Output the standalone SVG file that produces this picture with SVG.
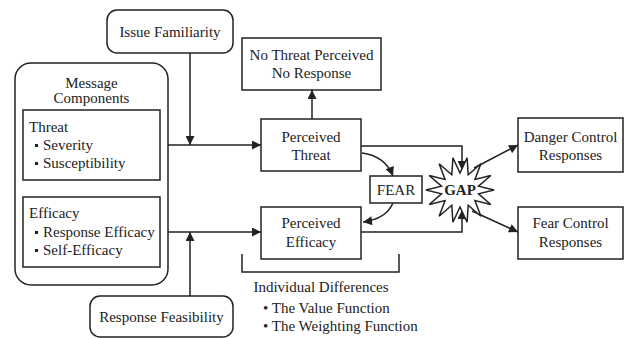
<svg xmlns="http://www.w3.org/2000/svg" width="628" height="338" viewBox="0 0 628 338">
<defs>
<style>
.b{fill:#fff;stroke:#222;stroke-width:1.5}
.t{font-family:'Liberation Serif','Tinos','Times New Roman','DejaVu Serif',serif;font-size:15px;fill:#222}
.c{text-anchor:middle}
.ln{fill:none;stroke:#222;stroke-width:1.5}
</style>
<marker id="ah" viewBox="0 0 10 10" refX="10" refY="5" markerWidth="11" markerHeight="9" markerUnits="userSpaceOnUse" orient="auto">
<path d="M0,0 L10,5 L0,10 z" fill="#222"/>
</marker>
</defs>
<rect width="628" height="338" fill="#fff"/>
<g id="connectors">
<path class="ln" d="M160,145 H261" marker-end="url(#ah)"/>
<path class="ln" d="M190,53 V145" marker-end="url(#ah)"/>
<path class="ln" d="M160,232 H261" marker-end="url(#ah)"/>
<path class="ln" d="M190,296 V232" marker-end="url(#ah)"/>
<path class="ln" d="M312,119 V90" marker-end="url(#ah)"/>
<path class="ln" d="M361,146 H462 V170" marker-end="url(#ah)"/>
<path class="ln" d="M361,232 H462 V210" marker-end="url(#ah)"/>
<path class="ln" d="M474,168 L518,145" marker-end="url(#ah)"/>
<path class="ln" d="M472,211 L518,232" marker-end="url(#ah)"/>
<path class="ln" d="M362,153 Q385,156 393,176" marker-end="url(#ah)"/>
<path class="ln" d="M393,203 Q386,219 363,222" marker-end="url(#ah)"/>
<path class="ln" d="M242,254 V272 H399 V254"/>
</g>
<g id="issue-familiarity">
<rect class="b" x="107" y="10" width="126" height="43" rx="10"/>
<text class="t c" x="170" y="37">Issue Familiarity</text>
</g>
<g id="message-components">
<rect class="b" x="15" y="63" width="153" height="222" rx="16"/>
<text class="t c" x="91.5" y="88">Message</text>
<text class="t c" x="91.5" y="103">Components</text>
</g>
<g id="threat">
<rect class="b" x="23" y="110" width="137" height="70"/>
<text class="t" x="29" y="132">Threat</text>
<rect x="35" y="144" width="3" height="3" fill="#222"/>
<text class="t" x="43" y="150">Severity</text>
<rect x="35" y="162" width="3" height="3" fill="#222"/>
<text class="t" x="43" y="168">Susceptibility</text>
</g>
<g id="efficacy">
<rect class="b" x="23" y="197" width="137" height="70"/>
<text class="t" x="29" y="218">Efficacy</text>
<rect x="35" y="231" width="3" height="3" fill="#222"/>
<text class="t" x="43" y="237">Response Efficacy</text>
<rect x="35" y="249" width="3" height="3" fill="#222"/>
<text class="t" x="43" y="255">Self-Efficacy</text>
</g>
<g id="response-feasibility">
<rect class="b" x="90" y="296" width="143" height="41" rx="10"/>
<text class="t c" x="161.5" y="322">Response Feasibility</text>
</g>
<g id="no-threat">
<rect class="b" x="242" y="38" width="139" height="52"/>
<text class="t c" x="311.5" y="60">No Threat Perceived</text>
<text class="t c" x="311.5" y="78">No Response</text>
</g>
<g id="perceived-threat">
<rect class="b" x="261" y="119" width="100" height="52"/>
<text class="t c" x="311" y="142">Perceived</text>
<text class="t c" x="311" y="160">Threat</text>
</g>
<g id="perceived-efficacy">
<rect class="b" x="261" y="207" width="100" height="52"/>
<text class="t c" x="311" y="228">Perceived</text>
<text class="t c" x="311" y="247">Efficacy</text>
</g>
<g id="fear">
<rect class="b" x="370" y="176" width="52" height="27"/>
<text class="t c" x="396" y="195">FEAR</text>
</g>
<g id="gap">
<polygon class="b" points="460,173 467.1,157.8 468.2,174.7 480.9,163.8 474.9,179.4 490.8,175.5 478.5,186.2 494,190 478.5,193.8 490.8,204.5 474.9,200.6 480.9,216.2 468.2,205.3 467.1,222.2 460,207 452.9,222.2 451.8,205.3 439.1,216.2 445.1,200.6 429.2,204.5 441.5,193.8 426,190 441.5,186.2 429.2,175.5 445.1,179.4 439.1,163.8 451.8,174.7 452.9,157.8"/>
<text class="t c" x="460" y="195" font-weight="bold">GAP</text>
</g>
<g id="danger-control">
<rect class="b" x="518" y="118" width="105" height="54"/>
<text class="t c" x="570.5" y="142">Danger Control</text>
<text class="t c" x="570.5" y="160">Responses</text>
</g>
<g id="fear-control">
<rect class="b" x="518" y="207" width="105" height="52"/>
<text class="t c" x="570.5" y="228">Fear Control</text>
<text class="t c" x="570.5" y="247">Responses</text>
</g>
<g id="individual-differences">
<text class="t c" x="321" y="292">Individual Differences</text>
<text class="t" x="263" y="313">• The Value Function</text>
<text class="t" x="263" y="331">• The Weighting Function</text>
</g>
</svg>
